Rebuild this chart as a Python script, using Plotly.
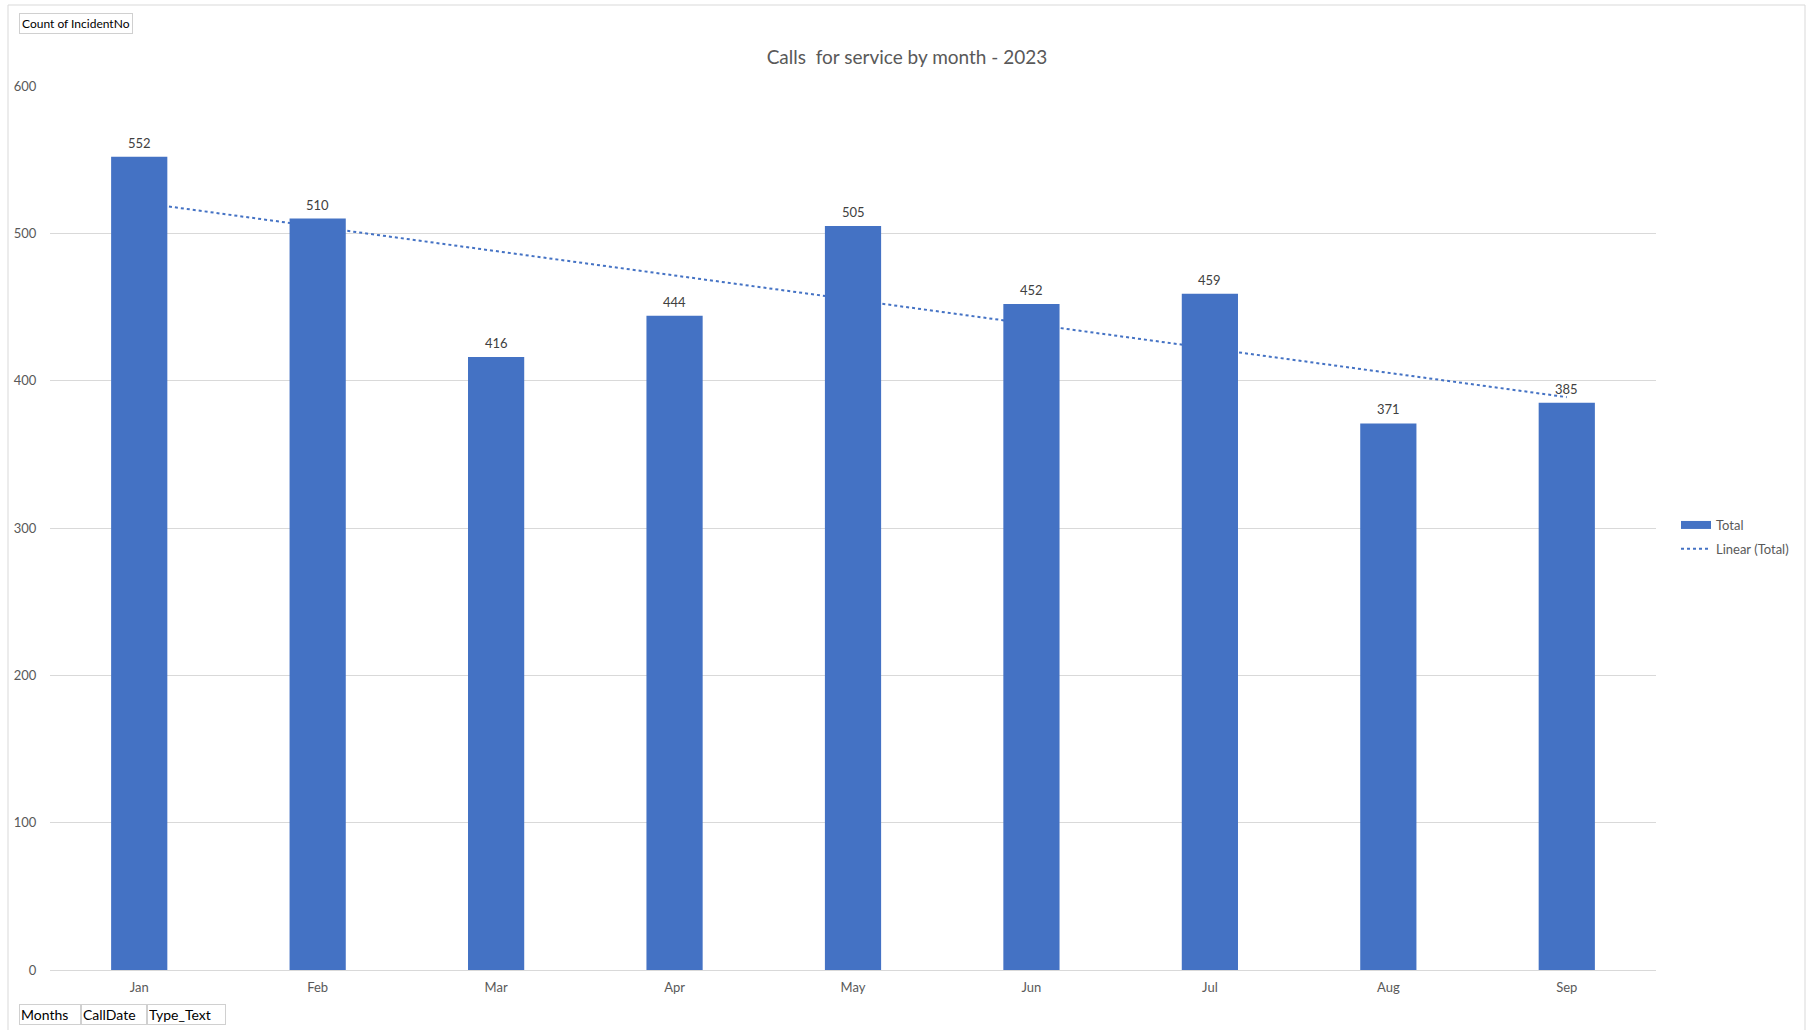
import numpy as np
import plotly.graph_objects as go

months = ["Jan", "Feb", "Mar", "Apr", "May", "Jun", "Jul", "Aug", "Sep"]
totals = [552, 510, 416, 444, 505, 452, 459, 371, 385]
y_ticks = [0, 100, 200, 300, 400, 500, 600]
title_text = "Calls  for service by month - 2023"
field_buttons = ["Months", "CallDate", "Type_Text"]

W, H = 1807, 1030
ML, MR, MT, MB = 50, 151, 86, 60
PW = W - ML - MR
PH = H - MT - MB


def px(x):
    return (x - ML) / PW


def py(y):
    return (H - MB - y) / PH


xi = np.arange(1, len(totals) + 1)
slope, intercept = np.polyfit(xi, totals, 1)
trend = slope * xi + intercept

BLUE = "#4472C4"
FONT = "Lato, 'Open Sans', sans-serif"

fig = go.Figure()

# trendline on the base axes (drawn beneath bars which live on overlay axes)
fig.add_trace(go.Scatter(
    x=months, y=trend, mode="lines", name="Linear (Total)",
    line=dict(color=BLUE, width=2, dash="dot"),
    xaxis="x", yaxis="y", showlegend=True, legendgroup="b", legendrank=2,
    hoverinfo="skip",
))

fig.add_trace(go.Bar(
    x=months, y=totals, name="Total", marker=dict(color=BLUE, line=dict(width=0)),
    xaxis="x2", yaxis="y2", showlegend=False, width=0.315,
))

# legend entry for bars (thick line swatch)
fig.add_trace(go.Scatter(
    x=[None], y=[None], mode="lines", name="Total",
    line=dict(color=BLUE, width=8), legendgroup="a", legendrank=1,
    xaxis="x", yaxis="y",
))

# data labels
for m, v in zip(months, totals):
    fig.add_annotation(x=m, y=v, xref="x2", yref="y2", text=str(v), showarrow=False,
                       yanchor="bottom", yshift=4,
                       font=dict(size=13, color="#404040", family=FONT))

fig.update_layout(
    width=W, height=H,
    margin=dict(l=ML, r=MR, t=MT, b=MB),
    paper_bgcolor="white", plot_bgcolor="white",
    font=dict(family=FONT, size=13, color="#595959"),
    title=dict(text=title_text, x=907 / W, xanchor="center", y=1 - 57 / H, yanchor="middle",
               font=dict(size=19, color="#595959", family=FONT)),
    bargap=0.685,
    xaxis=dict(type="category", categoryorder="array", categoryarray=months,
               showgrid=False, showline=False, zeroline=False,
               ticks="outside", ticklen=5, tickcolor="rgba(0,0,0,0)",
               tickfont=dict(size=13, color="#595959"), range=[-0.5, 8.5]),
    yaxis=dict(range=[0, 600], tickvals=y_ticks, showgrid=True, gridcolor="#d9d9d9",
               gridwidth=1, zeroline=True, zerolinecolor="#d9d9d9", zerolinewidth=1,
               showline=False, ticks="outside", ticklen=10, tickcolor="rgba(0,0,0,0)",
               tickfont=dict(size=13, color="#595959")),
    xaxis2=dict(type="category", categoryorder="array", categoryarray=months,
                overlaying="x", visible=False, range=[-0.5, 8.5]),
    yaxis2=dict(range=[0, 600], overlaying="y", visible=False),
    legend=dict(x=px(1676), xanchor="left", y=py(537), yanchor="middle",
                font=dict(size=13, color="#595959"), tracegroupgap=4,
                bgcolor="rgba(0,0,0,0)", itemwidth=30),
    showlegend=True,
)

# outer chart border
fig.add_shape(type="rect", xref="paper", yref="paper",
              x0=px(8), x1=px(1805), y0=py(1040), y1=py(5),
              line=dict(color="#d9d9d9", width=1), fillcolor="rgba(0,0,0,0)", layer="below")

# field button "Count of IncidentNo"
fig.add_annotation(text="Count of IncidentNo", xref="paper", yref="paper",
                   x=px(19), xanchor="left", y=py(13), yanchor="top", showarrow=False,
                   font=dict(size=12, color="#000000", family=FONT),
                   bordercolor="#d0d0d0", borderwidth=1, borderpad=2, bgcolor="white")

# bottom field buttons
lefts = [19, 81, 147]
widths = [62, 66, 79]
for lab, lx, w in zip(field_buttons, lefts, widths):
    fig.add_annotation(text=lab, xref="paper", yref="paper",
                       x=px(lx), xanchor="left", y=py(1004), yanchor="top", showarrow=False,
                       width=w - 4, align="left",
                       font=dict(size=14, color="#000000", family=FONT),
                       bordercolor="#d0d0d0", borderwidth=1, borderpad=1, bgcolor="white")

fig.write_html("out.html")
